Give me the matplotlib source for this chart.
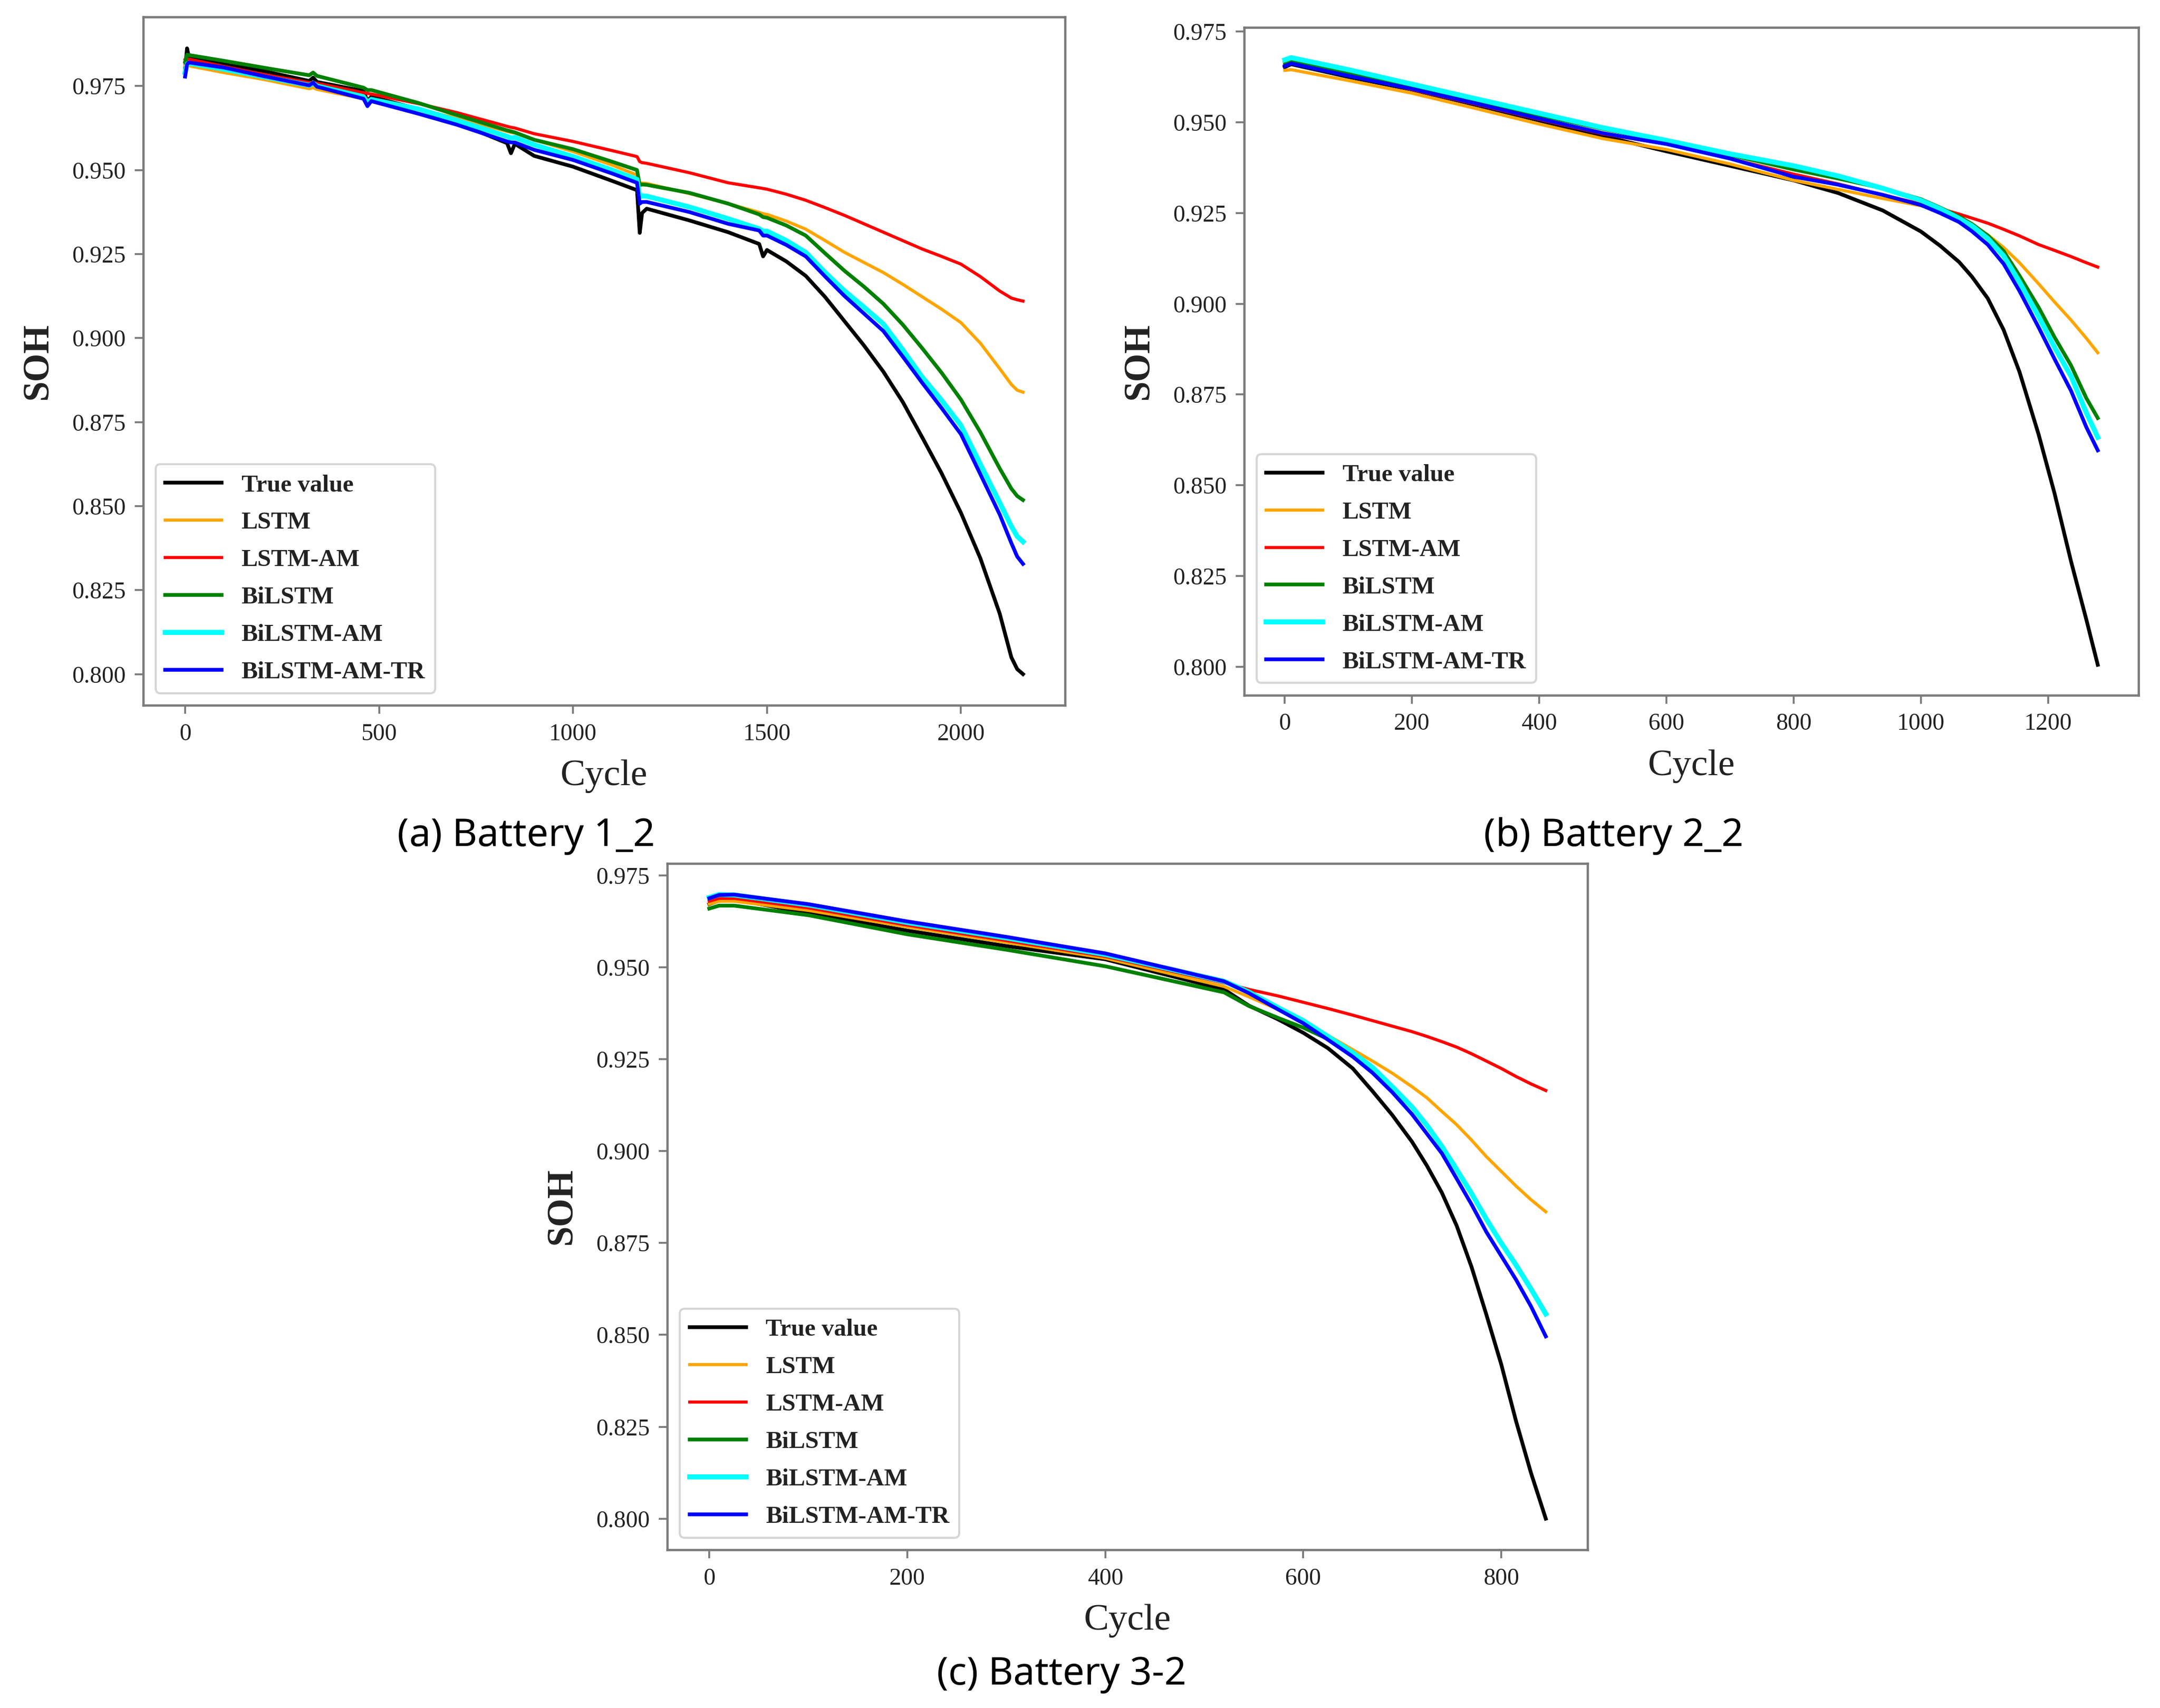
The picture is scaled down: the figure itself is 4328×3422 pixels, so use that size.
import matplotlib
matplotlib.use('Agg')
import matplotlib.pyplot as plt
from matplotlib.text import Annotation

# ---- data ------------------------------------------------------------------
labels = ['True value', 'LSTM', 'LSTM-AM', 'BiLSTM', 'BiLSTM-AM', 'BiLSTM-AM-TR']
colors = ['black', 'orange', 'red', 'green', 'cyan', 'blue']
widths = [1.8, 1.5, 1.5, 1.8, 2.4, 1.8]

# (a) Battery 1_2
cyc_a = [0, 5, 10, 100, 200, 320, 330, 340, 460, 470, 480, 600, 700, 830, 840, 850,
         900, 1000, 1100, 1165, 1172, 1178, 1190, 1300, 1400, 1480, 1490, 1500, 1550,
         1600, 1650, 1700, 1750, 1800, 1850, 1900, 1950, 2000, 2050, 2100, 2130, 2145, 2160]
true_a = [0.9800, 0.9862, 0.9835, 0.9815, 0.9795, 0.9765, 0.9775, 0.9762, 0.9735, 0.9705,
          0.9718, 0.9682, 0.9641, 0.9580, 0.9550, 0.9578, 0.9542, 0.9510, 0.9468, 0.9440,
          0.9313, 0.9372, 0.9385, 0.9350, 0.9315, 0.9280, 0.9243, 0.9262, 0.9228,
          0.9185, 0.9122, 0.9050, 0.8978, 0.8900, 0.8810, 0.8705, 0.8598, 0.8480, 0.8345,
          0.8180, 0.8050, 0.8015, 0.8000]
lstm_a = [0.9810, 0.9812, 0.9810, 0.9790, 0.9770, 0.9742, 0.9745, 0.9740, 0.9712, 0.9708,
          0.9706, 0.9680, 0.9655, 0.9615, 0.9612, 0.9610, 0.9590, 0.9555, 0.9515, 0.9485,
          0.9462, 0.9461, 0.9460, 0.9430, 0.9400, 0.9374, 0.9370, 0.9368, 0.9348,
          0.9324, 0.9290, 0.9255, 0.9225, 0.9195, 0.9160, 0.9123, 0.9086, 0.9046, 0.8985,
          0.8909, 0.8862, 0.8845, 0.8839]
lstmam_a = [0.9828, 0.9830, 0.9830, 0.9808, 0.9785, 0.9760, 0.9760, 0.9758, 0.9730, 0.9728,
            0.9726, 0.9698, 0.9671, 0.9630, 0.9627, 0.9625, 0.9608, 0.9585, 0.9558, 0.9540,
            0.9525, 0.9522, 0.9520, 0.9492, 0.9462, 0.9447, 0.9445, 0.9443, 0.9428,
            0.9410, 0.9388, 0.9365, 0.9340, 0.9315, 0.9290, 0.9265, 0.9243, 0.9220, 0.9183,
            0.9140, 0.9119, 0.9114, 0.9110]
bilstm_a = [0.9822, 0.9843, 0.9842, 0.9825, 0.9805, 0.9782, 0.9790, 0.9780, 0.9745, 0.9738,
            0.9738, 0.9700, 0.9664, 0.9618, 0.9615, 0.9612, 0.9590, 0.9562, 0.9525, 0.9500,
            0.9455, 0.9457, 0.9456, 0.9432, 0.9400, 0.9368, 0.9360, 0.9358, 0.9335,
            0.9305, 0.9252, 0.9200, 0.9153, 0.9102, 0.9040, 0.8970, 0.8897, 0.8817, 0.8720,
            0.8612, 0.8552, 0.8530, 0.8518]
bilstmam_a = [0.9790, 0.9815, 0.9818, 0.9800, 0.9778, 0.9752, 0.9758, 0.9750, 0.9718, 0.9700,
              0.9710, 0.9682, 0.9648, 0.9600, 0.9595, 0.9597, 0.9575, 0.9540, 0.9500, 0.9472,
              0.9420, 0.9423, 0.9422, 0.9390, 0.9355, 0.9325, 0.9318, 0.9318, 0.9290,
              0.9255, 0.9195, 0.9140, 0.9092, 0.9042, 0.8965, 0.8884, 0.8815, 0.8740, 0.8625,
              0.8510, 0.8440, 0.8410, 0.8394]
tr_a = [0.9778, 0.9815, 0.9820, 0.9805, 0.9780, 0.9752, 0.9760, 0.9748, 0.9712, 0.9690,
        0.9705, 0.9668, 0.9635, 0.9585, 0.9582, 0.9582, 0.9560, 0.9530, 0.9490, 0.9462,
        0.9400, 0.9405, 0.9405, 0.9375, 0.9340, 0.9320, 0.9305, 0.9305, 0.9277,
        0.9243, 0.9183, 0.9125, 0.9073, 0.9021, 0.8945, 0.8867, 0.8792, 0.8714, 0.8595,
        0.8475, 0.8390, 0.8350, 0.8328]

# (b) Battery 2_2
cyc_b = [0, 10, 100, 200, 300, 400, 500, 600, 700, 800, 870, 940, 1000, 1030, 1060,
         1080, 1105, 1130, 1155, 1185, 1210, 1236, 1260, 1278]
true_b = [0.9652, 0.9660, 0.9625, 0.9590, 0.9548, 0.9505, 0.9462, 0.9420, 0.9380, 0.9340,
          0.9305, 0.9257, 0.9199, 0.9160, 0.9115, 0.9075, 0.9015, 0.8928, 0.8812, 0.8640,
          0.8478, 0.8290, 0.8130, 0.8005]
lstm_b = [0.9643, 0.9645, 0.9615, 0.9580, 0.9538, 0.9495, 0.9455, 0.9425, 0.9385, 0.9340,
          0.9315, 0.9290, 0.9270, 0.9255, 0.9235, 0.9215, 0.9190, 0.9155, 0.9113, 0.9055,
          0.9005, 0.8955, 0.8905, 0.8865]
lstmam_b = [0.9660, 0.9663, 0.9630, 0.9590, 0.9550, 0.9508, 0.9468, 0.9440, 0.9400, 0.9357,
            0.9330, 0.9300, 0.9275, 0.9262, 0.9247, 0.9236, 0.9222, 0.9205, 0.9187, 0.9163,
            0.9147, 0.9130, 0.9113, 0.9101]
bilstm_b = [0.9665, 0.9670, 0.9638, 0.9600, 0.9560, 0.9520, 0.9482, 0.9448, 0.9410, 0.9370,
            0.9345, 0.9318, 0.9288, 0.9265, 0.9240, 0.9220, 0.9188, 0.9145, 0.9077, 0.8990,
            0.8908, 0.8830, 0.8740, 0.8685]
bilstmam_b = [0.9672, 0.9678, 0.9645, 0.9605, 0.9565, 0.9525, 0.9485, 0.9450, 0.9413, 0.9380,
              0.9352, 0.9318, 0.9285, 0.9262, 0.9235, 0.9215, 0.9180, 0.9132, 0.9060, 0.8965,
              0.8880, 0.8800, 0.8700, 0.8632]
tr_b = [0.9655, 0.9662, 0.9628, 0.9592, 0.9552, 0.9510, 0.9470, 0.9440, 0.9400, 0.9350,
        0.9328, 0.9300, 0.9272, 0.9250, 0.9225, 0.9200, 0.9163, 0.9110, 0.9035, 0.8935,
        0.8848, 0.8760, 0.8660, 0.8596]

# (c) Battery 3-2
cyc_c = [0, 10, 25, 100, 200, 300, 400, 520, 545, 575, 600, 625, 650, 670, 690, 710, 725,
         740, 755, 770, 785, 800, 815, 830, 845]
true_c = [0.9672, 0.9682, 0.9685, 0.9648, 0.9600, 0.9558, 0.9522, 0.9440, 0.9396, 0.9358,
          0.9322, 0.9280, 0.9225, 0.9163, 0.9098, 0.9025, 0.8960, 0.8887, 0.8797, 0.8685,
          0.8555, 0.8420, 0.8265, 0.8125, 0.8000]
lstm_c = [0.9672, 0.9680, 0.9680, 0.9655, 0.9610, 0.9568, 0.9525, 0.9448, 0.9420, 0.9385,
          0.9350, 0.9315, 0.9276, 0.9245, 0.9212, 0.9175, 0.9145, 0.9108, 0.9072, 0.9030,
          0.8985, 0.8945, 0.8905, 0.8868, 0.8835]
lstmam_c = [0.9680, 0.9688, 0.9688, 0.9662, 0.9615, 0.9573, 0.9530, 0.9458, 0.9440, 0.9422,
            0.9405, 0.9388, 0.9370, 0.9355, 0.9340, 0.9325, 0.9312, 0.9298, 0.9283, 0.9265,
            0.9245, 0.9225, 0.9203, 0.9183, 0.9165]
bilstm_c = [0.9660, 0.9668, 0.9668, 0.9642, 0.9590, 0.9548, 0.9503, 0.9432, 0.9395, 0.9362,
            0.9336, 0.9305, 0.9258, 0.9222, 0.9172, 0.9118, 0.9068, 0.9012, 0.8948, 0.8883,
            0.8813, 0.8750, 0.8692, 0.8628, 0.8560]
bilstmam_c = [0.9690, 0.9698, 0.9697, 0.9670, 0.9622, 0.9580, 0.9535, 0.9462, 0.9433, 0.9390,
              0.9355, 0.9312, 0.9268, 0.9228, 0.9175, 0.9120, 0.9070, 0.9013, 0.8950, 0.8885,
              0.8815, 0.8750, 0.8690, 0.8625, 0.8557]
tr_c = [0.9688, 0.9697, 0.9698, 0.9672, 0.9625, 0.9583, 0.9538, 0.9462, 0.9430, 0.9385,
        0.9348, 0.9303, 0.9257, 0.9213, 0.9160, 0.9100, 0.9047, 0.8994, 0.8925, 0.8855,
        0.8780, 0.8715, 0.8650, 0.8578, 0.8496]

x_ticks_a = [0, 500, 1000, 1500, 2000]
x_ticks_b = [0, 200, 400, 600, 800, 1000, 1200]
x_ticks_c = [0, 200, 400, 600, 800]
y_ticks = [0.800, 0.825, 0.850, 0.875, 0.900, 0.925, 0.950, 0.975]

plt.rcParams['font.family'] = ['Liberation Serif', 'DejaVu Serif']

EDGE = '#7a7a7a'


def draw_panel(ax, cycles, series, xticks):
    """Draw one SOH panel with its six curves and the legend."""
    for vals, lab, col, lw in zip(series, labels, colors, widths):
        ax.plot(cycles, vals, color=col, lw=lw, label=lab)
    ax.set_xticks(xticks)
    ax.set_yticks(y_ticks)
    ax.set_yticklabels([f'{v:.3f}' for v in y_ticks])
    ax.tick_params(labelsize=11.5, length=4, width=0.9, color=EDGE,
                   labelcolor='#222222', pad=4.5)
    for sp in ax.spines.values():
        sp.set_color(EDGE)
        sp.set_linewidth(1.1)
    ax.set_xlabel('Cycle', fontsize=18, labelpad=7, color='#222222')
    ax.set_ylabel('SOH', fontsize=17.5, fontweight='bold', labelpad=8, color='#222222')
    leg = ax.legend(loc='lower left', prop={'weight': 'bold', 'size': 11.8},
                    handlelength=2.3, labelspacing=0.62)
    for t in leg.get_texts():
        t.set_color('#222222')


def caption(fig, x, y, letter, rest):
    """Write '(x) Battery ...' with a bold letter, starting at figure x."""
    kw = dict(fontsize=18.5, family=['Noto Sans', 'DejaVu Sans'], color='black',
              va='bottom', ha='left')
    t1 = fig.text(x, y, '(', **kw)
    t2 = fig.add_artist(Annotation(letter, xy=(1, 0), xycoords=t1,
                                   fontweight='bold', **kw))
    fig.add_artist(Annotation(') ' + rest, xy=(1, 0), xycoords=t2, **kw))


fig = plt.figure(figsize=(4328 / 300, 3422 / 300), dpi=300)

ax_a = fig.add_axes([0.0663, 0.587, 0.4267, 0.403])
draw_panel(ax_a, cyc_a, [true_a, lstm_a, lstmam_a, bilstm_a, bilstmam_a, tr_a], x_ticks_a)

ax_b = fig.add_axes([0.576, 0.593, 0.414, 0.391])
draw_panel(ax_b, cyc_b, [true_b, lstm_b, lstmam_b, bilstm_b, bilstmam_b, tr_b], x_ticks_b)

ax_c = fig.add_axes([0.309, 0.0926, 0.426, 0.4019])
draw_panel(ax_c, cyc_c, [true_c, lstm_c, lstmam_c, bilstm_c, bilstmam_c, tr_c], x_ticks_c)

caption(fig, 0.1840, 0.4995, 'a', 'Battery 1_2')
caption(fig, 0.6870, 0.4995, 'b', 'Battery 2_2')
caption(fig, 0.4337, 0.0085, 'c', 'Battery 3-2')

fig.savefig('out.png', dpi=300)
